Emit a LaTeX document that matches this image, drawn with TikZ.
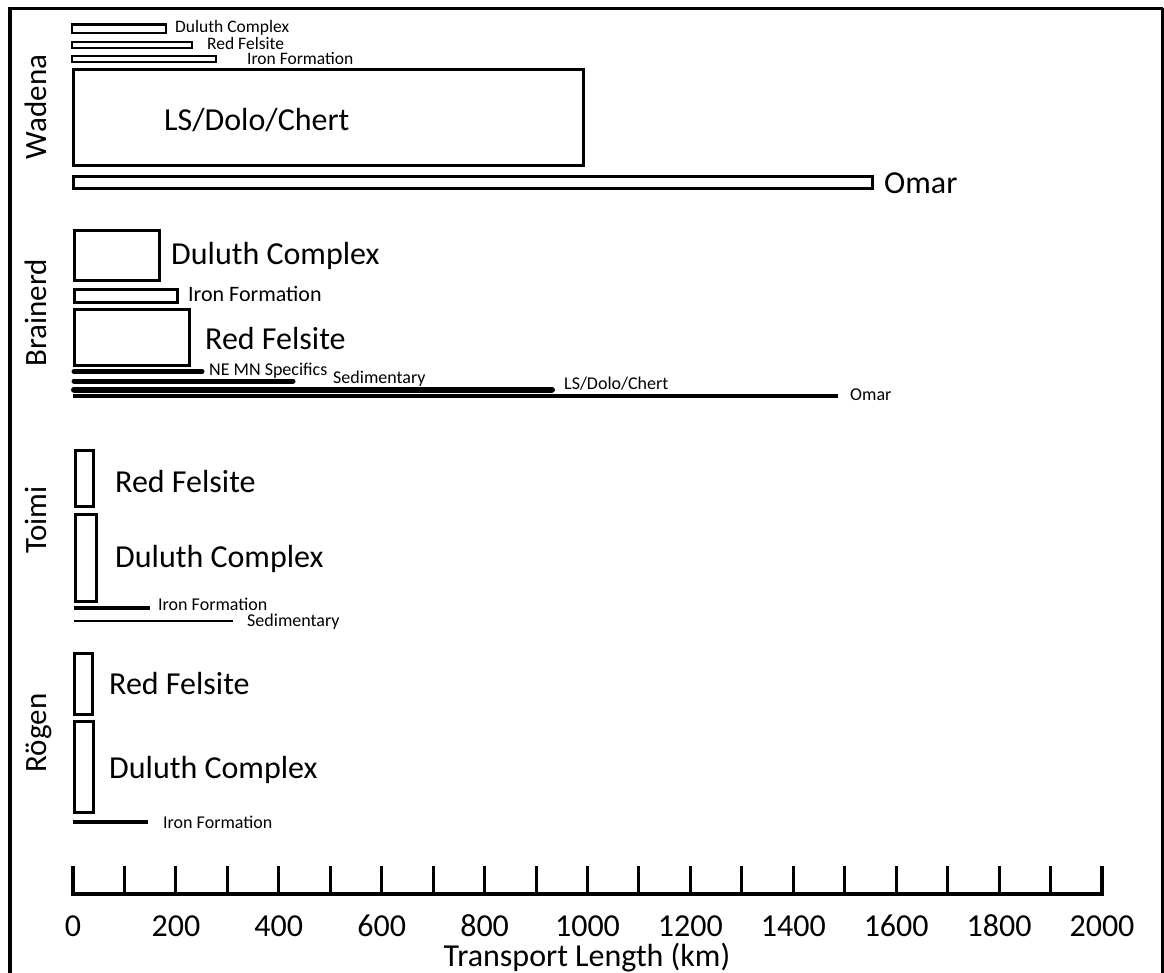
\documentclass[tikz,border=0pt]{standalone}
\usepackage{fontspec}
\setmainfont{Carlito}
\begin{document}
\begin{tikzpicture}[x=1pt,y=-1pt,
  bar/.style={draw=black,line width=3pt,fill=white},
  thinbar/.style={draw=black,line width=2.5pt},
  big/.style={font=\fontsize{32}{38}\selectfont,inner sep=0pt,anchor=base west},
  mid/.style={font=\fontsize{22}{26}\selectfont,inner sep=0pt,anchor=base west},
  small/.style={font=\fontsize{18}{22}\selectfont,inner sep=0pt,anchor=base west},
  tiny/.style={font=\fontsize{17.5}{21}\selectfont,inner sep=0pt,anchor=base west},
  grp/.style={font=\fontsize{31}{36}\selectfont,inner sep=0pt,anchor=base,rotate=90},
  ticklbl/.style={font=\fontsize{32}{38}\selectfont,inner sep=0pt,anchor=base},
  ]
\useasboundingbox (0,0) rectangle (1164,973);
% frame
\draw[line width=4pt] (9.5,990) -- (9.5,9);
\draw[line width=3pt] (8,9) -- (1162.5,9);
\draw[line width=2.5pt] (1162.5,8) -- (1162.5,990);

% Wadena
\node[grp] (wadena) at (46,107) {Wadena};
\draw[thinbar] (72,24.5) rectangle (166,33);
\node[tiny] (wdc) at (175,32.5) {Duluth Complex};
\draw[thinbar] (72,42) rectangle (192,48);
\node[tiny] (wrf) at (207,49.5) {Red Felsite};
\draw[thinbar] (72,56) rectangle (216,62);
\node[tiny] (wif) at (247,65) {Iron Formation};
\draw[bar] (73,70) rectangle (583,166);
\node[big] (wls) at (164,131) {LS/Dolo/Chert};
\draw[bar] (73,177) rectangle (872,189);
\node[big] (wom) at (884,194) {Omar};

% Brainerd
\node[grp] (brainerd) at (46,313) {Brainerd};
\draw[bar] (74,231) rectangle (159,281);
\node[big] (bdc) at (171,265) {Duluth Complex};
\draw[bar] (74,289.5) rectangle (177,303);
\node[mid] (bif) at (188,301.5) {Iron Formation};
\draw[bar] (74,310) rectangle (189,365);
\node[big] (brf) at (205,349) {Red Felsite};
\draw[line width=5pt,line cap=round] (74,371.5) -- (202,371.5);
\node[small] (bne) at (209,375.5) {NE MN Specifics};
\draw[line width=5pt,line cap=round] (74,381) -- (293,381);
\node[small] (bsed) at (333,383.5) {Sedimentary};
\draw[line width=6pt,line cap=round] (74,389.5) -- (552,389.5);
\node[small] (bls) at (564,389) {LS/Dolo/Chert};
\draw[line width=3.5pt] (73,396) -- (838,396);
\node[small] (bom) at (850,400) {Omar};

% Toimi
\node[grp] (toimi) at (46,520) {Toimi};
\draw[bar] (75.5,450.5) rectangle (93.5,506);
\node[big] (trf) at (115,492) {Red Felsite};
\draw[bar] (75.5,514.5) rectangle (96,601);
\node[big] (tdc) at (115,567) {Duluth Complex};
\draw[line width=4pt] (74,607.5) -- (150,607.5);
\node[small] (tif) at (158,610) {Iron Formation};
\draw[line width=1.8pt] (74,621) -- (233,621);
\node[small] (tsed) at (247,626.5) {Sedimentary};

% Rögen
\node[grp] (rogen) at (46,733) {Rögen};
\draw[bar] (74.5,653) rectangle (92.5,714);
\node[big] (rrf) at (109,694) {Red Felsite};
\draw[bar] (74.5,721) rectangle (93,812);
\node[big] (rdc) at (109,778) {Duluth Complex};
\draw[line width=3.5pt] (73,822) -- (148,822);
\node[small] (rif) at (163,828) {Iron Formation};

% axis
\draw[line width=3.5pt] (73,866) -- (73,894) -- (1102,894) -- (1102,866);
\foreach \i in {1,...,19} \draw[line width=3pt] ({73+\i*51.45},866) -- ({73+\i*51.45},894);
\foreach \i/\v in {0/0,2/200,4/400,6/600,8/800,10/1000,12/1200,14/1400,16/1600,18/1800,20/2000}
  \node[ticklbl] (t\v) at ({73+\i*51.45},936) {\v};
\node[ticklbl] (xlabel) at (587,966) {Transport Length (km)};
\end{tikzpicture}
\end{document}
